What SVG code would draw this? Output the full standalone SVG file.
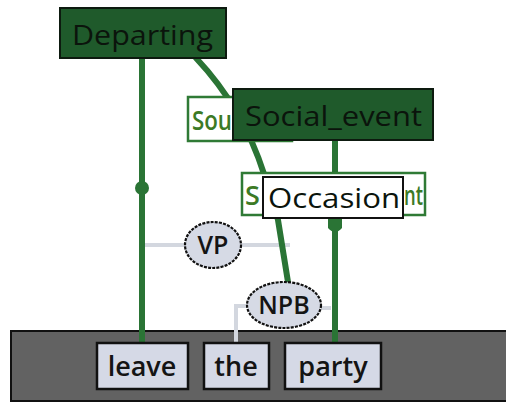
<svg xmlns="http://www.w3.org/2000/svg" width="506" height="402" viewBox="0 0 506 402">
<style>
.frame{fill:#1f5a2b;stroke:#0d1a0f;stroke-width:2}
.fe{fill:#fff;stroke:#2f7a35;stroke-width:2.5}
.fetxt{fill:#3c7a25;font-family:"Open Sans","DejaVu Sans",sans-serif;font-size:27px;font-weight:600}
.ftxt{fill:#0b140c;font-family:"Open Sans","DejaVu Sans",sans-serif;font-size:28px;font-weight:500}
.g{fill:none;stroke:#2a7435;stroke-width:6;stroke-linecap:round}
.gl{fill:none;stroke:#d3d7df;stroke-width:4}
.ell{fill:#d6dae5;stroke:#111;stroke-width:2.2;stroke-dasharray:3 1.2}
.etxt{fill:#141414;font-family:"Open Sans","DejaVu Sans",sans-serif;font-size:25px;font-weight:600;text-anchor:middle}
.word{fill:#d5d9e6;stroke:#111;stroke-width:2.5}
.wtxt{fill:#141414;font-family:"Open Sans","DejaVu Sans",sans-serif;font-size:27px;font-weight:600;text-anchor:middle}
</style>
<rect x="0" y="0" width="506" height="402" fill="#fff"/>
<g id="band"><rect x="11" y="331" width="500" height="70" fill="#626262" stroke="#111" stroke-width="2"/></g>
<g id="connectors">
<path class="gl" d="M145,245 H186 M241,245 H290"/>
<path class="gl" d="M247,306 H236 V343 M321,308 H331"/>
<path class="g" d="M142,58 V343"/>
<circle cx="142" cy="188" r="7" fill="#2a7435"/>
<path class="g" d="M196,58 C228,92 250,130 264,174 L278,220 L288,282"/>
<path class="g" d="M335,140 V176"/>
<path class="g" d="M335,218 V343"/>
<path d="M328,219 H342 V228 Q335,236 328,228 Z" fill="#2a7435"/>
</g>
<g id="departing">
<rect class="frame" x="60" y="8" width="166" height="50"/>
<text class="ftxt" x="72" y="45" textLength="141" lengthAdjust="spacingAndGlyphs">Departing</text>
</g>
<g id="source">
<rect class="fe" x="188" y="97" width="104" height="44"/>
<text class="fetxt" x="192" y="130" textLength="40" lengthAdjust="spacingAndGlyphs">Sou</text>
</g>
<g id="social_event">
<rect class="frame" x="233" y="89" width="200" height="51"/>
<text class="ftxt" x="245" y="126" textLength="177" lengthAdjust="spacingAndGlyphs">Social_event</text>
</g>
<g id="social_event_fe">
<rect class="fe" x="242" y="173" width="183" height="42"/>
<text class="fetxt" x="245" y="205">S</text>
<text class="fetxt" x="404" y="205" textLength="19" lengthAdjust="spacingAndGlyphs">nt</text>
</g>
<g id="occasion">
<rect x="263" y="177" width="140" height="41" fill="#fff" stroke="#111" stroke-width="2"/>
<text class="ftxt" x="268" y="208" textLength="132" lengthAdjust="spacingAndGlyphs">Occasion</text>
</g>
<g id="vp">
<ellipse class="ell" cx="213" cy="245" rx="28" ry="23"/>
<text class="etxt" x="213" y="254">VP</text>
</g>
<g id="npb">
<ellipse class="ell" cx="284" cy="305" rx="37" ry="23"/>
<text class="etxt" x="284" y="314">NPB</text>
</g>
<g id="leave">
<rect class="word" x="97" y="343" width="91" height="46"/>
<text class="wtxt" x="142" y="376">leave</text>
</g>
<g id="the">
<rect class="word" x="204" y="343" width="65" height="46"/>
<text class="wtxt" x="236" y="376">the</text>
</g>
<g id="party">
<rect class="word" x="285" y="343" width="96" height="46"/>
<text class="wtxt" x="333" y="376">party</text>
</g>
</svg>
